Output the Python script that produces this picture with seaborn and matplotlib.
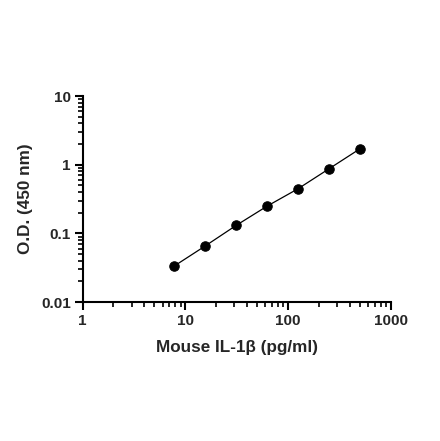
import matplotlib
matplotlib.use("Agg")
import matplotlib.pyplot as plt
import matplotlib.ticker as mticker
import numpy as np
import pandas as pd
import seaborn as sns

concentration = [7.8, 15.6, 31.25, 62.5, 125, 250, 500]
od_450 = [0.0335, 0.0656, 0.131, 0.250, 0.448, 0.875, 1.71]
x_ticks = [1, 10, 100, 1000]
x_tick_labels = ["1", "10", "100", "1000"]
y_ticks = [0.01, 0.1, 1, 10]
y_tick_labels = ["0.01", "0.1", "1", "10"]

sns.set_style("ticks")
plt.rcParams['font.family'] = ['Liberation Sans', 'DejaVu Sans']
plt.rcParams['font.weight'] = 'bold'

df = pd.DataFrame({"conc": concentration, "od": od_450})

fig = plt.figure(figsize=(4.40, 4.41), dpi=100)
ax = fig.add_axes([0.1875, 0.315, 0.701, 0.467])
sns.lineplot(data=df, x="conc", y="od", ax=ax, color="black", linewidth=0.9,
             marker="o", markersize=6.8, markeredgecolor="black", markerfacecolor="black")
ax.set_xscale("log")
ax.set_yscale("log")
ax.set_xlim(1, 1000)
ax.set_ylim(0.01, 10)
ax.set_xticks(x_ticks)
ax.set_xticklabels(x_tick_labels)
ax.set_yticks(y_ticks)
ax.set_yticklabels(y_tick_labels)
ax.xaxis.set_minor_locator(mticker.LogLocator(base=10, subs=np.arange(2, 10)))
ax.yaxis.set_minor_locator(mticker.LogLocator(base=10, subs=np.arange(2, 10)))
ax.xaxis.set_minor_formatter(mticker.NullFormatter())
ax.yaxis.set_minor_formatter(mticker.NullFormatter())
for s in ["top", "right"]:
    ax.spines[s].set_visible(False)
for s in ["left", "bottom"]:
    ax.spines[s].set_linewidth(1.5)
    ax.spines[s].set_color("black")
ax.tick_params(which="major", length=6, width=1.5, color="black", labelsize=11, pad=2.5)
ax.tick_params(which="minor", length=3.5, width=1.2, color="black")
for lab in ax.get_xticklabels() + ax.get_yticklabels():
    lab.set_fontweight("bold")
ax.set_xlabel("Mouse IL-1β (pg/ml)", fontsize=12.3, fontweight="bold", labelpad=9)
ax.set_ylabel("O.D. (450 nm)", fontsize=12.3, fontweight="bold", labelpad=6)
fig.savefig("out.png", dpi=100, facecolor="white")
